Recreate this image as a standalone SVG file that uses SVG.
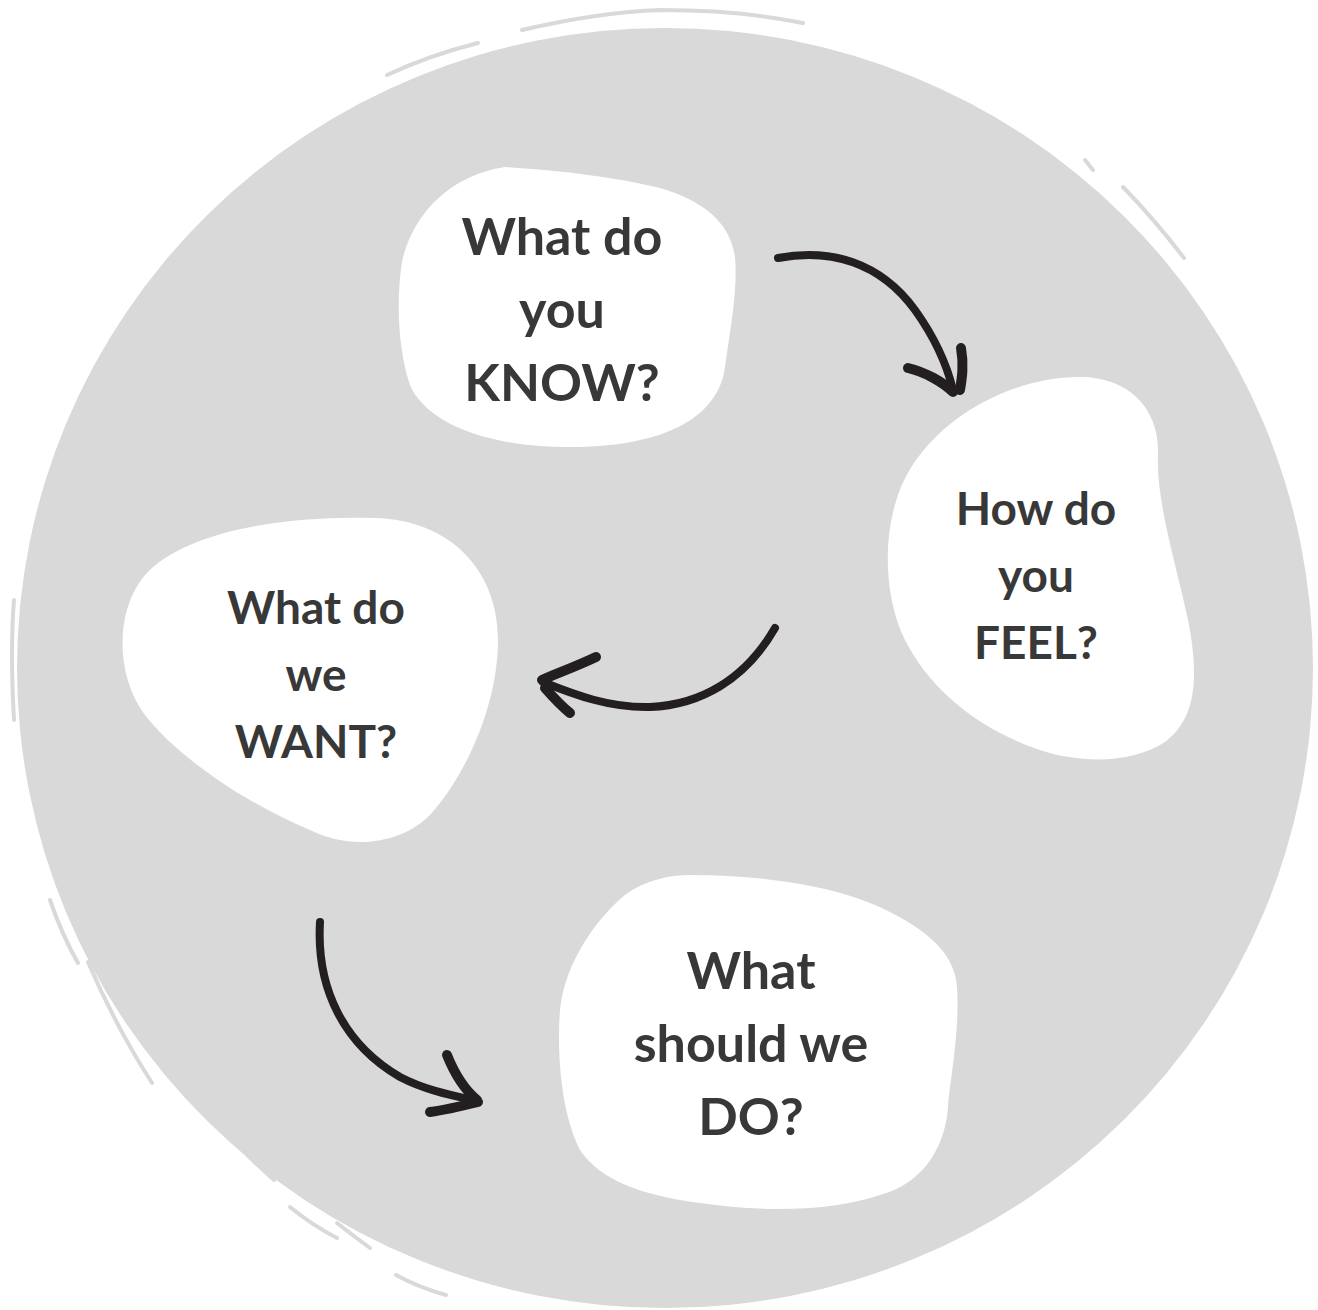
<svg xmlns="http://www.w3.org/2000/svg" width="1318" height="1310" viewBox="0 0 1318 1310">
<defs>
<style>
.bg{fill:#d9d9d9}
.streak{fill:none;stroke:#d9d9d9;stroke-width:4;stroke-linecap:round}
.blob{fill:#ffffff}
.lbl{font-family:Lato,"Liberation Sans",sans-serif;font-weight:700;fill:#383838;text-anchor:middle}
.arr{fill:none;stroke:#231f20;stroke-width:8;stroke-linecap:round;stroke-linejoin:round}
.head{fill:none;stroke:#231f20;stroke-width:10;stroke-linecap:round;stroke-linejoin:round}
</style>
</defs>
<rect width="1318" height="1310" fill="#ffffff"/>
<g id="background">
<ellipse class="bg" cx="665" cy="668" rx="648" ry="640"/>
<path class="streak" d="M522,30 Q600,12 660,10 Q740,10 803,23"/>
<path class="streak" d="M387,75 Q430,55 478,43"/>
<path class="streak" d="M105,370 Q135,305 175,255"/>
<path class="streak" d="M101,400 Q115,360 135,327"/>
<path class="streak" d="M1085,160 L1093,170"/>
<path class="streak" d="M1123,187 Q1155,220 1184,258"/>
<path class="streak" d="M50,900 Q62,935 78,963"/>
<path class="streak" d="M88,962 Q115,1025 152,1083"/>
<path class="streak" d="M196,1103 Q235,1145 274,1180"/>
<path class="streak" d="M290,1207 Q312,1225 337,1238"/>
<path class="streak" d="M337,1223 Q355,1237 370,1248"/>
<path class="streak" d="M396,1275 Q420,1288 446,1295"/>
<path class="streak" d="M14,600 Q10,650 14,720"/>
</g>
<g id="node-know">
<path class="blob" d="M505,167 C560,170 620,178 660,188 C700,200 730,220 735,257 C738,290 730,330 725,367 C718,420 660,447 570,447 C480,447 425,420 410,385 C398,350 396,300 402,262 C412,215 450,175 505,167 Z"/>
<text class="lbl" font-size="52"><tspan x="562" y="255">What do</tspan><tspan x="562" y="328">you</tspan><tspan x="562" y="401">KNOW?</tspan></text>
</g>
<g id="node-feel">
<path class="blob" d="M1080,377 C1130,377 1160,410 1158,455 C1156,500 1175,560 1188,620 C1200,680 1195,720 1165,742 C1135,762 1085,765 1040,750 C980,730 930,690 905,640 C885,600 882,540 898,495 C920,430 1000,377 1080,377 Z"/>
<text class="lbl" font-size="46"><tspan x="1036" y="525">How do</tspan><tspan x="1036" y="592">you</tspan><tspan x="1036" y="659">FEEL?</tspan></text>
</g>
<g id="node-want">
<path class="blob" d="M375,518 C450,520 498,570 498,640 C498,700 470,770 430,815 C400,845 350,850 310,830 C250,805 180,760 145,715 C115,675 115,610 145,575 C185,530 290,515 375,518 Z"/>
<text class="lbl" font-size="46"><tspan x="316" y="624">What do</tspan><tspan x="316" y="691">we</tspan><tspan x="316" y="758">WANT?</tspan></text>
</g>
<g id="node-do">
<path class="blob" d="M690,875 C760,875 830,885 875,905 C920,925 955,950 957,987 C960,1030 950,1080 948,1107 C945,1150 920,1185 880,1195 C830,1212 760,1212 700,1203 C640,1195 600,1180 580,1150 C560,1110 557,1050 560,1010 C565,960 600,915 625,895 C645,880 670,875 690,875 Z"/>
<text class="lbl" font-size="52"><tspan x="751" y="989">What</tspan><tspan x="751" y="1062">should we</tspan><tspan x="751" y="1135">DO?</tspan></text>
</g>
<g id="connectors">
<path class="arr" d="M778,258 C830,248 880,262 915,310 C935,338 947,365 953,390"/>
<path class="head" d="M908,368 C925,372 943,382 953,392 M961,348 C964,365 962,378 960,390"/>
<path class="arr" d="M775,628 C745,680 700,705 650,707 C610,708 575,695 543,682"/>
<path class="head" d="M596,657 C575,667 555,674 542,680 M570,713 C560,705 552,696 545,688"/>
<path class="arr" d="M320,922 C316,990 345,1045 400,1077 C425,1090 450,1095 477,1101"/>
<path class="head" d="M447,1055 C455,1075 465,1090 477,1100 M430,1112 C445,1110 462,1106 478,1102"/>
</g>
</svg>
